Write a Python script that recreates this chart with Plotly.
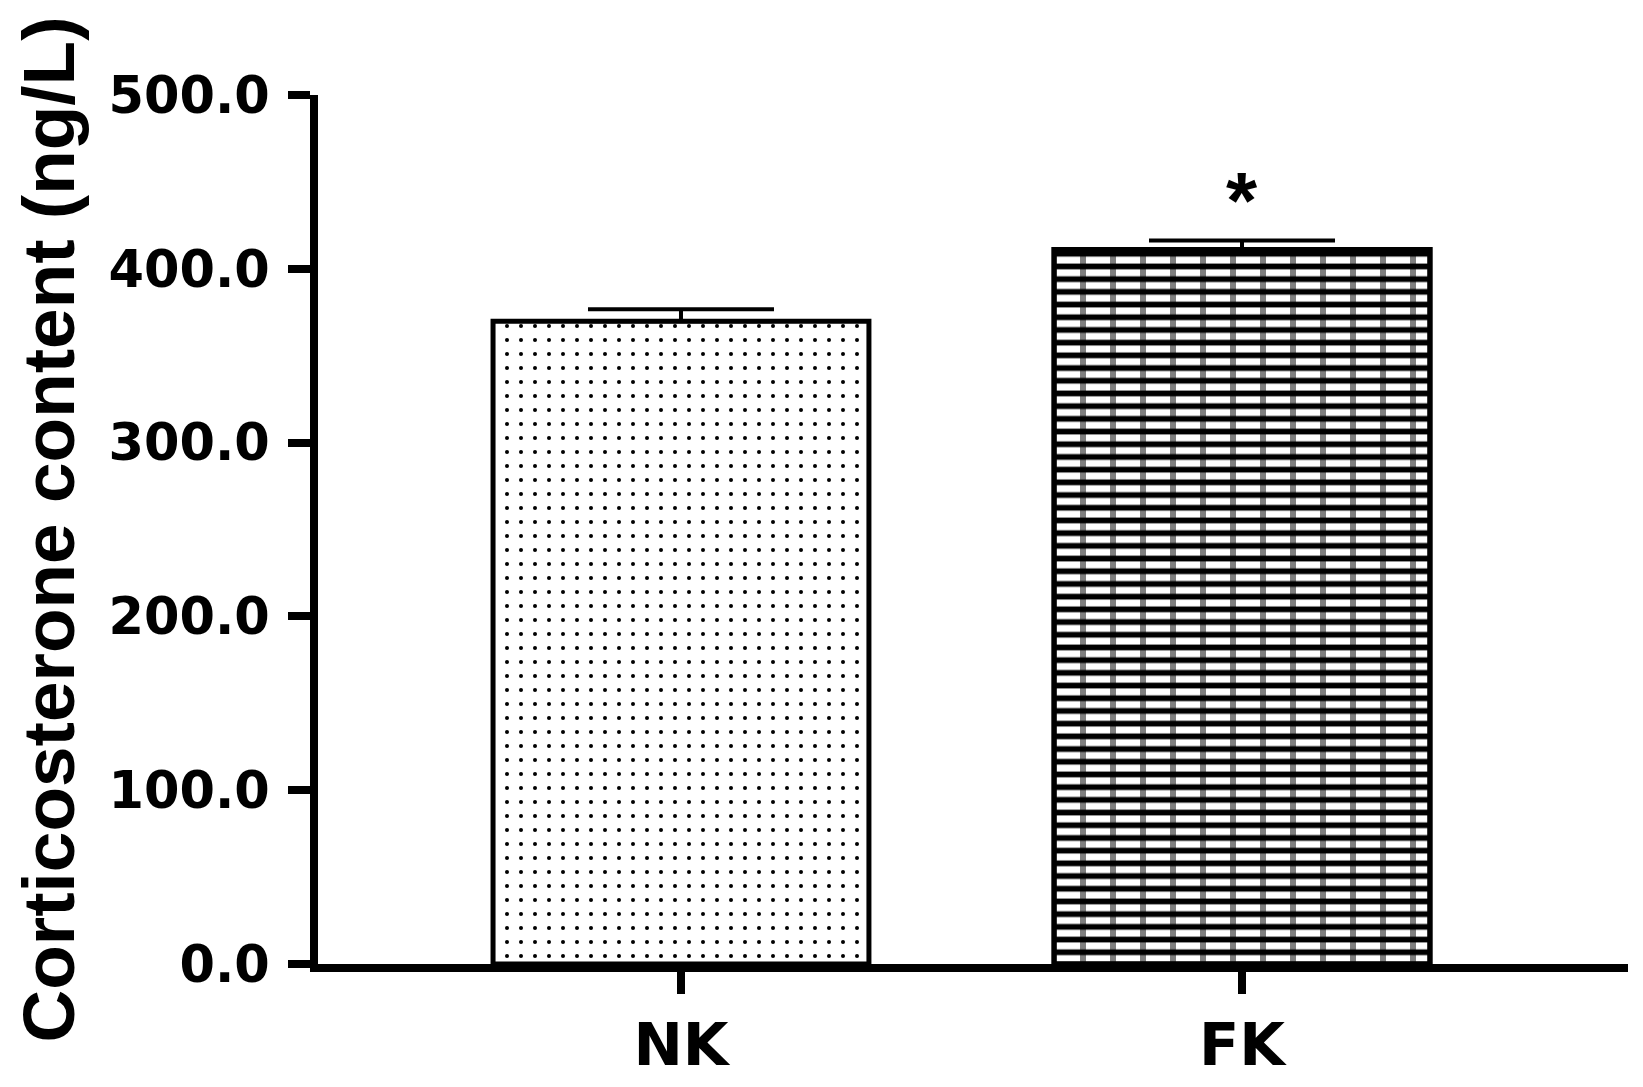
import plotly.graph_objects as go

categories = ["NK", "FK"]
means = [369.8, 411.1]
sems = [6.9, 5.2]
star_labels = ["", "*"]
y_ticks = [0, 100, 200, 300, 400, 500]

FONT = "Liberation Sans, Arial, sans-serif"
TICKFONT = "DejaVu Sans, Liberation Sans, sans-serif"

fig = go.Figure()

# NK: dotted bar
fig.add_trace(go.Bar(
    x=[categories[0]], y=[means[0]],
    width=0.67,
    marker=dict(color="white",
                line=dict(color="black", width=5),
                pattern=dict(shape=".", size=14, solidity=0.065,
                             fgcolor="black", bgcolor="white", fillmode="replace")),
    error_y=dict(type="data", symmetric=False, array=[sems[0]], arrayminus=[0],
                 color="black", thickness=4, width=93),
    showlegend=False,
))

# FK: brick-like bar (horizontal mortar rows)
fig.add_trace(go.Bar(
    x=[categories[1]], y=[means[1]],
    width=0.67,
    marker=dict(color="white",
                line=dict(color="black", width=5),
                pattern=dict(shape="-", size=12.7, solidity=0.45,
                             fgcolor="black", bgcolor="white", fillmode="replace")),
    error_y=dict(type="data", symmetric=False, array=[sems[1]], arrayminus=[0],
                 color="black", thickness=4, width=93),
    showlegend=False,
))
# FK: vertical mortar joints overlay
fig.add_trace(go.Bar(
    x=[categories[1]], y=[means[1]],
    width=0.67,
    marker=dict(color="rgba(0,0,0,0)",
                line=dict(color="black", width=5),
                pattern=dict(shape="|", size=30, solidity=0.2,
                             fgcolor="black", bgcolor="rgba(0,0,0,0)", fillmode="overlay")),
    showlegend=False,
    hoverinfo="skip",
))

# significance star
for c, m, s, lab in zip(categories, means, sems, star_labels):
    if lab:
        fig.add_annotation(x=c, y=m + s, text=lab, showarrow=False,
                           yanchor="bottom", yshift=-7,
                           font=dict(family=FONT, size=80, color="black", weight="bold"))

fig.update_layout(
    barmode="overlay",
    width=1643, height=1087,
    paper_bgcolor="white", plot_bgcolor="white",
    margin=dict(l=310, r=23, t=87, b=131),
    font=dict(family=FONT, color="black"),
)

fig.update_xaxes(
    type="category",
    range=[-0.647, 1.688],
    showline=True, linewidth=8, linecolor="black",
    ticks="outside", ticklen=22, tickwidth=8, tickcolor="black",
    tickfont=dict(family=TICKFONT, size=59, color="black", weight="bold"),
    showgrid=False, zeroline=False,
)

fig.update_yaxes(
    range=[0, 500],
    tickvals=y_ticks,
    tickformat=".1f",
    showline=True, linewidth=8, linecolor="black",
    ticks="outside", ticklen=22, tickwidth=8, tickcolor="black",
    ticklabelstandoff=8,
    tickfont=dict(family=TICKFONT, size=51, color="black", weight="bold"),
    showgrid=False, zeroline=False,
    title=dict(text="Corticosterone content (ng/L)",
               font=dict(family=FONT, size=73, color="black", weight="bold"),
               standoff=14),
)

fig.write_html("out.html")
